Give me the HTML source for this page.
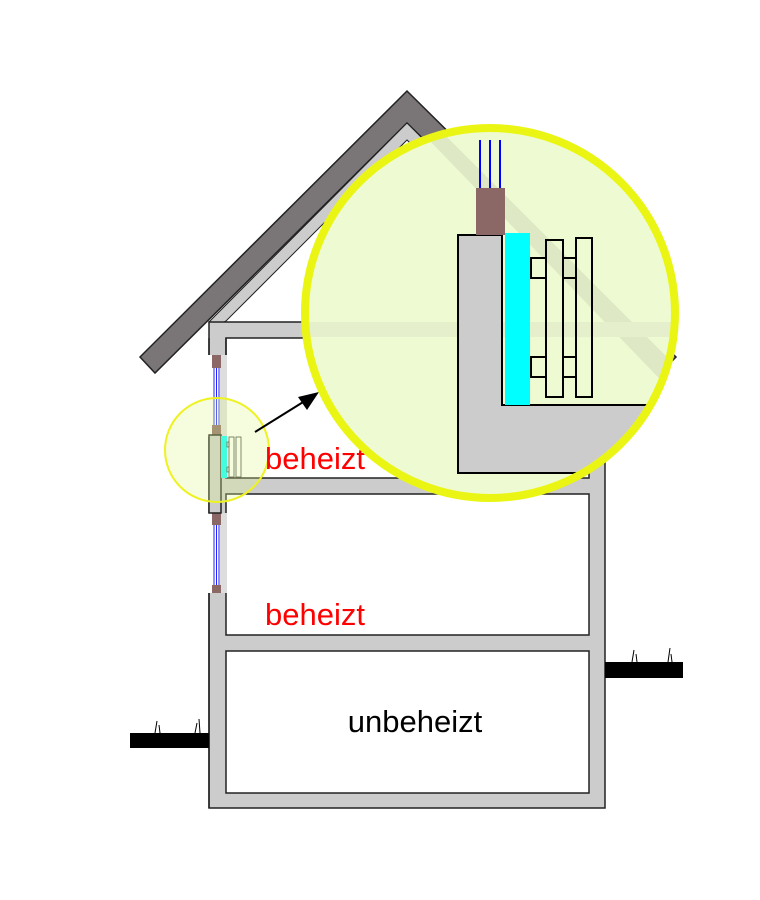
<!DOCTYPE html>
<html><head><meta charset="utf-8"><style>html,body{margin:0;padding:0;background:#fff}svg{display:block}</style></head>
<body>
<svg width="760" height="900" viewBox="0 0 760 900" xmlns="http://www.w3.org/2000/svg">
<!-- roof -->
<polygon points="140,357 407,91 676,357 661,372 407,123 155,373" fill="#7a7677" stroke="#222" stroke-width="1.5"/>
<polygon points="407,123 600,316 590,322 407,140 226,321 209,330 209,322" fill="#ccc" stroke="#222" stroke-width="1"/>
<!-- building gray body -->
<rect x="209" y="322" width="396" height="486" fill="#ccc" stroke="#222" stroke-width="1.5"/>
<!-- rooms -->
<rect x="226" y="338" width="363" height="140" fill="#fff" stroke="#222" stroke-width="1.5"/>
<rect x="226" y="494" width="363" height="141" fill="#fff" stroke="#222" stroke-width="1.5"/>
<rect x="226" y="651" width="363" height="142" fill="#fff" stroke="#222" stroke-width="1.5"/>
<!-- window gaps -->
<rect x="208" y="355" width="19" height="82" fill="#fff"/>
<rect x="208" y="513" width="19" height="80" fill="#fff"/>
<rect x="220" y="355" width="7" height="82" fill="#ddd"/>
<rect x="220" y="513" width="7" height="80" fill="#ddd"/>
<rect x="212" y="355" width="9" height="13" fill="#8b6766"/>
<rect x="212" y="425" width="9" height="12" fill="#8b6766"/>
<rect x="212" y="513" width="9" height="12" fill="#8b6766"/>
<rect x="212" y="585" width="9" height="8" fill="#8b6766"/>
<g stroke="#22f" stroke-width="1"><line x1="214" y1="368" x2="214" y2="425"/><line x1="216.5" y1="368" x2="216.5" y2="425"/><line x1="219" y1="368" x2="219" y2="425"/>
<line x1="214" y1="525" x2="214" y2="585"/><line x1="216.5" y1="525" x2="216.5" y2="585"/><line x1="219" y1="525" x2="219" y2="585"/></g>
<path d="M209,355 V338 M226,355 V338 M209,593 V808" stroke="#222" stroke-width="1.5" fill="none"/>
<!-- notch -->
<rect x="209" y="435" width="12" height="78" fill="#ccc" stroke="#222" stroke-width="1.5"/>
<rect x="221" y="436" width="6" height="42" fill="#0ff"/>
<g fill="none" stroke="#333" stroke-width="0.8"><rect x="229" y="437" width="5" height="40"/><rect x="236" y="437" width="5" height="40"/><rect x="227" y="442" width="2" height="5"/><rect x="227" y="467" width="2" height="5"/></g>
<!-- ground -->
<rect x="130" y="733" width="79" height="15" fill="#000"/>
<rect x="605" y="662" width="78" height="16" fill="#000"/>
<g stroke="#000" stroke-width="1" fill="none"><path d="M155,733 l2,-12 M160,733 l-1,-8 M195,733 l2,-10 M200,733 l-1,-14 M632,662 l2,-12 M637,662 l-1,-8 M668,662 l2,-14 M672,662 l-1,-8"/></g>
<!-- small circle -->
<circle cx="217" cy="450" r="52" fill="rgba(225,248,150,0.3)" stroke="#eef220" stroke-width="2"/>
<!-- arrow -->
<line x1="255" y1="432" x2="308" y2="399" stroke="#000" stroke-width="2"/>
<polygon points="319,392 298,397 307,410" fill="#000"/>
<!-- texts -->
<text x="265" y="469" font-family="Liberation Sans, sans-serif" font-size="31" fill="#f00">beheizt</text>
<text x="265" y="625" font-family="Liberation Sans, sans-serif" font-size="31" fill="#f00">beheizt</text>
<text x="415" y="732" text-anchor="middle" font-family="Liberation Sans, sans-serif" font-size="31" fill="#000">unbeheizt</text>
<!-- big circle -->
<defs><clipPath id="c"><circle cx="490" cy="313" r="185"/></clipPath></defs>
<circle cx="490" cy="313" r="185" fill="#eefbd2"/>
<g clip-path="url(#c)">
<polygon points="400,110 420,110 700,390 680,400" fill="#dfe8c4"/>
<rect x="300" y="322" width="400" height="15" fill="#e6efcb"/>
<path d="M458,235 H502 V405 H700 V473 H458 Z" fill="#ccc" stroke="#000" stroke-width="2"/>
<rect x="476" y="188" width="29" height="47" fill="#8b6766"/>
<g stroke="#00f" stroke-width="2"><line x1="480" y1="140" x2="480" y2="188"/><line x1="490" y1="140" x2="490" y2="188"/><line x1="500" y1="140" x2="500" y2="188"/></g>
<rect x="505" y="233" width="25" height="172" fill="#0ff"/>
<g fill="none" stroke="#000" stroke-width="2"><rect x="546" y="240" width="17" height="157"/><rect x="576" y="238" width="16" height="159"/>
<rect x="531" y="258" width="15" height="20"/><rect x="531" y="357" width="15" height="20"/><rect x="563" y="258" width="13" height="20"/><rect x="563" y="357" width="13" height="20"/></g>
</g>
<circle cx="490" cy="313" r="185" fill="none" stroke="#eaf514" stroke-width="8"/>
</svg>
</body></html>
